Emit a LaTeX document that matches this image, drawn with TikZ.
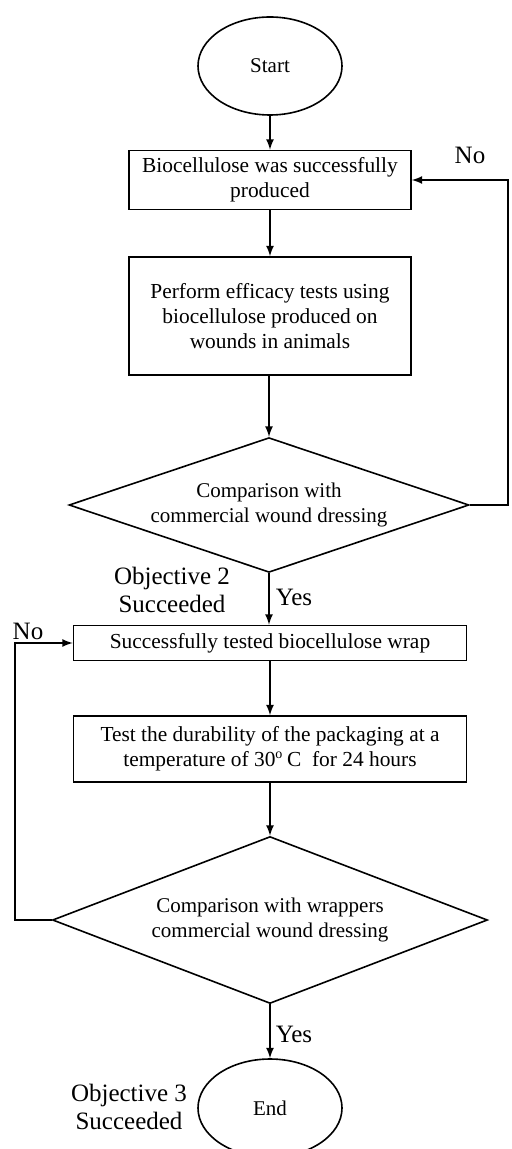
\documentclass[tikz,border=0pt]{standalone}
\usepackage{fontspec}
\setmainfont{Liberation Serif}
\usepackage{tikz}
\usetikzlibrary{shapes.geometric}

\begin{document}
\begin{tikzpicture}[x=0.5pt, y=-0.5pt, line width=0.8pt, >=latex,
  ovalshape/.style={draw, ellipse, minimum width=72pt, minimum height=49pt,
    inner sep=0pt, font=\fontsize{10.5}{12.5}\selectfont},
  stepbox/.style={draw, rectangle, align=center, inner sep=0pt,
    minimum width=141pt, font=\fontsize{10.7}{12.3}\selectfont},
  decisionshape/.style={draw, diamond, align=center, inner sep=0pt,
    aspect=2.6, font=\fontsize{10.5}{12.3}\selectfont},
  labeltext/.style={align=center, font=\fontsize{12.5}{14}\selectfont}]

\useasboundingbox (0,0) rectangle (511,1149);

% first part, objective 2
\path
(270,66) node [ovalshape] (startoval) {Start}
(270,180) node [stepbox, minimum height=29.5pt] (produced)
  {Biocellulose was successfully\\produced}
(270,316) node [stepbox, minimum height=59pt] (efficacy)
  {Perform efficacy tests using\\biocellulose produced on\\wounds in animals}
(269,505) node [decisionshape, minimum width=200pt, minimum height=60.5pt] (compare1)
  {Comparison with\\commercial wound dressing};

% second part, objective 3
\path
(270,643) node [stepbox, minimum width=196.5pt, minimum height=17.5pt] (wraptested)
  {Successfully tested biocellulose wrap}
(270,749) node [stepbox, minimum width=196.5pt, minimum height=33pt] (durability)
  {Test the durability of the packaging at a\\temperature of 30\textsuperscript{\scriptsize o}\,C\ \ for 24 hours}
(270,920) node [decisionshape, minimum width=217.5pt, minimum height=83.5pt] (compare2)
  {Comparison with wrappers\\commercial wound dressing}
(270,1108) node [ovalshape] (endoval) {End};

% turning points of the loops
\coordinate (rightturn) at (508,180);
\coordinate (leftturn) at (15,643);

% arrows
\draw[->] (startoval) -- (produced);
\draw[->] (produced) -- (efficacy);
\draw[->] (efficacy.south -| compare1.north) -- (compare1.north);
\draw[->] (compare1.south) -- (compare1.south |- wraptested.north);
\draw[->] (wraptested) -- (durability);
\draw[->] (durability) -- (compare2);
\draw[->] (compare2) -- (endoval);
\draw[->] (compare1.east) -| (rightturn) -- (produced.east);
\draw[->] (compare2.west) -| (leftturn) -- (wraptested.west);

% labels
\path
(470,155) node [labeltext] (no1) {No}
(28,631) node [labeltext] (no2) {No}
(294,597) node [labeltext] (yes1) {Yes}
(294,1034) node [labeltext] (yes2) {Yes}
(172,590) node [labeltext] (objective2) {Objective 2\\Succeeded}
(129,1107) node [labeltext] (objective3) {Objective 3\\Succeeded};

\end{tikzpicture}
\end{document}
